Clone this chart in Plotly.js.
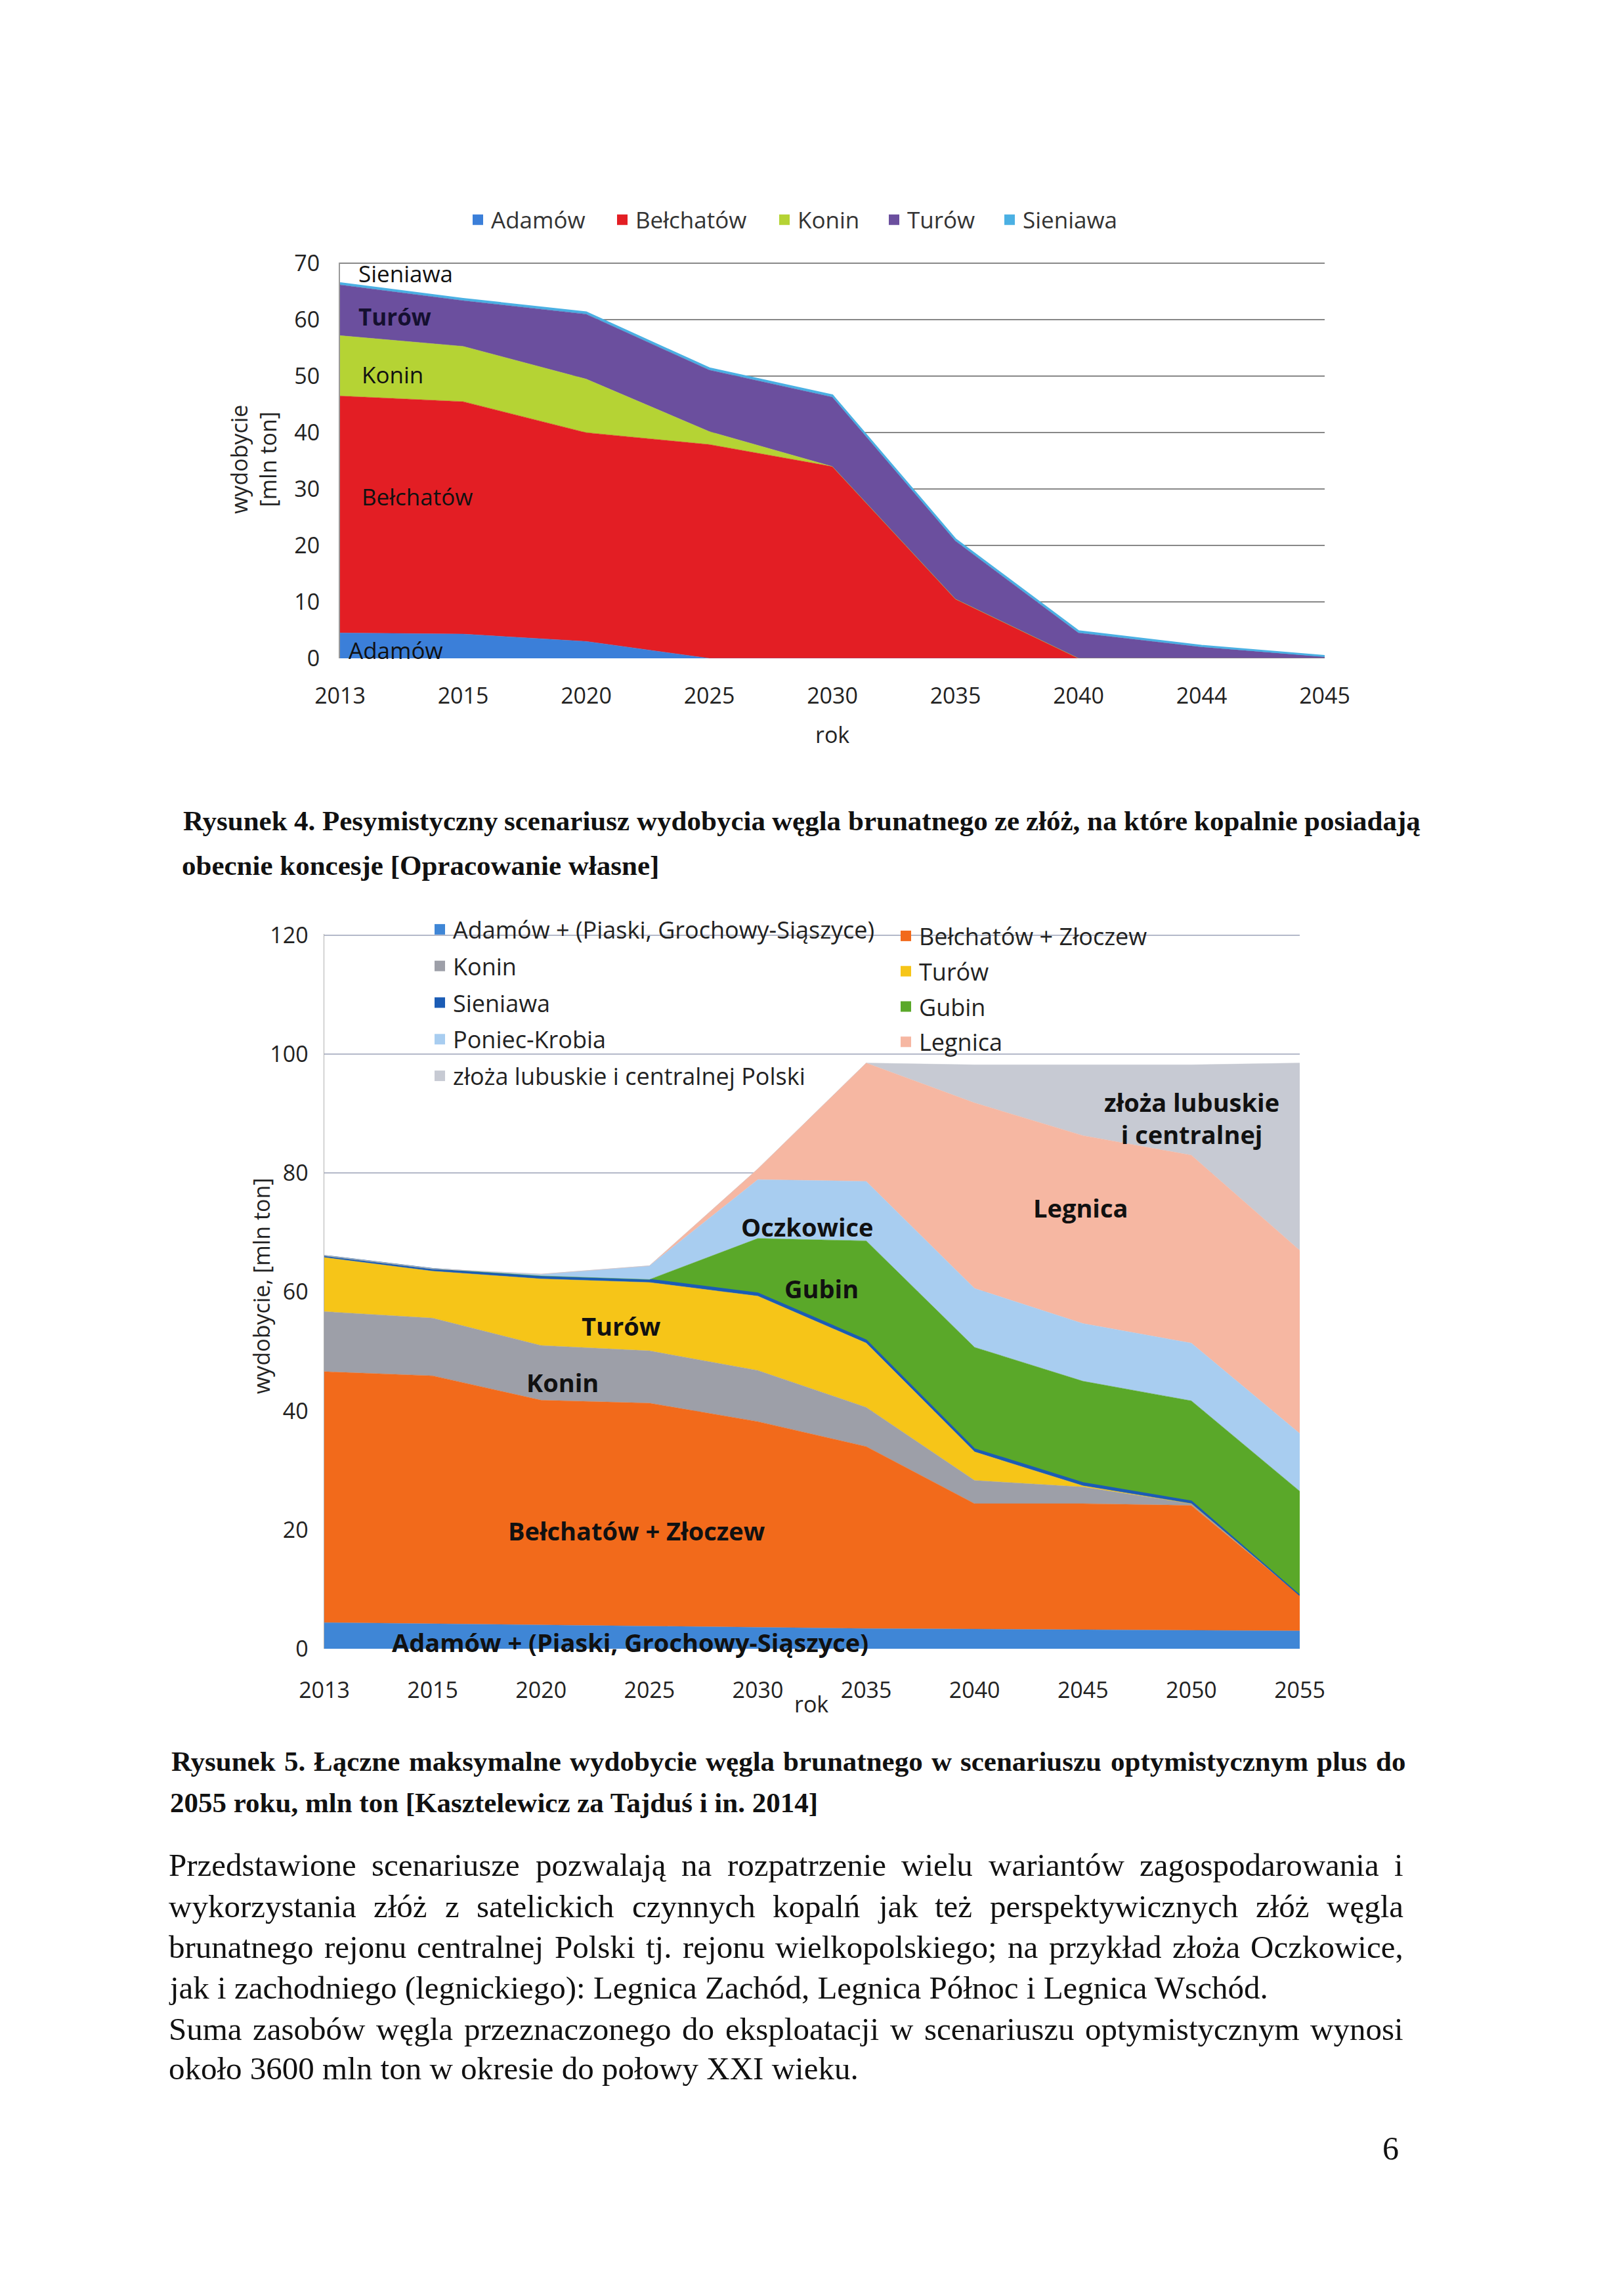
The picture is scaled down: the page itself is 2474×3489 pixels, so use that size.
<!DOCTYPE html>
<html>
<head>
<meta charset="utf-8">
<script src="https://cdn.plot.ly/plotly-3.0.1.min.js"></script>
<style>html,body{margin:0;padding:0;background:#fff;}#page{width:2474px;height:3489px;}</style>
</head>
<body>
<div id="page"></div>
<script>
// ---------- DATA: Rysunek 4 (scenariusz pesymistyczny) ----------
var years1 = ['2013','2015','2020','2025','2030','2035','2040','2044','2045'];
var adamow1    = [4.5, 4.3, 3.0, 0,    0,    0,    0,   0,   0];
var belchatow1 = [42.0,41.2,37.0,37.9, 34.0, 10.5, 0,   0,   0];
var konin1     = [10.7, 9.8, 9.5, 2.3, 0,    0,    0,   0,   0];
var turow1     = [9.0,  8.1,11.5,10.9, 12.3, 10.3, 4.5, 2.0, 0.3];
var sieniawa1  = [0.3,  0.3, 0.3, 0.3, 0.3,  0.3,  0.3, 0.2, 0.1];
var names1 = ['Adamów','Bełchatów','Konin','Turów','Sieniawa'];

// ---------- DATA: Rysunek 5 (scenariusz optymistyczny plus) ----------
var years2 = ['2013','2015','2020','2025','2030','2035','2040','2045','2050','2055'];
var adamow2    = [4.4, 4.2, 4.0, 3.8, 3.6, 3.4, 3.3, 3.2, 3.1, 3.0];
var belchatow2 = [42.2,41.7,37.8,37.5,34.6,30.6,21.1,21.2,21.0, 6.0];
var konin2     = [10.1, 9.7, 9.2, 8.8, 8.6, 6.6, 3.9, 2.8, 0.3, 0];
var turow2     = [9.1,  7.9,11.2,11.5,12.5,10.8, 4.8, 0.2, 0,   0];
var sieniawa2  = [0.3,  0.4, 0.5, 0.5, 0.5, 0.5, 0.5, 0.5, 0.4, 0];
var gubin2     = [0,    0,   0,   0,   9.2,16.7,17.1,17.1,16.9,17.5];
var poniec2    = [0,    0,   0.3, 2.3, 9.9,10.0, 9.9, 9.7, 9.7, 9.7];
var legnica2   = [0,    0,   0,   0,   1.8,19.9,31.2,31.6,31.6,30.8];
var lubuskie2  = [0,    0,   0,   0,   0,   0,   6.4,11.9,15.2,31.5];
var names2 = ['Adamów + (Piaski, Grochowy-Siąszyce)','Bełchatów + Złoczew','Konin','Turów','Sieniawa',
              'Gubin','Poniec-Krobia','Legnica','złoża lubuskie i centralnej Polski'];

// ---------- TEXT ----------
var caption4 = ['Rysunek 4. Pesymistyczny scenariusz wydobycia węgla brunatnego ze złóż, na które kopalnie posiadają',
                'obecnie koncesje [Opracowanie własne]'];
var caption5 = ['Rysunek 5. Łączne maksymalne wydobycie węgla brunatnego w scenariuszu optymistycznym plus do',
                '2055 roku, mln ton [Kasztelewicz za Tajduś i in. 2014]'];
var bodyLines = ['Przedstawione  scenariusze pozwalają na rozpatrzenie wielu wariantów zagospodarowania i',
  'wykorzystania złóż z satelickich czynnych kopalń  jak też perspektywicznych złóż węgla',
  'brunatnego rejonu centralnej Polski tj. rejonu wielkopolskiego; na przykład złoża Oczkowice,',
  'jak i zachodniego (legnickiego): Legnica Zachód, Legnica Północ i Legnica Wschód.',
  'Suma zasobów węgla przeznaczonego do eksploatacji w scenariuszu optymistycznym wynosi',
  'około 3600 mln ton w okresie do połowy XXI wieku.'];
var bodyJustified = [true, true, true, false, true, false];

// ---------- helpers ----------
var W = 2474, H = 3489;
function px(x){ return x / W; }
function py(y){ return 1 - y / H; }
var SANS = 'Open Sans, Liberation Sans, sans-serif';
var SERIF = 'Liberation Serif, Times New Roman, serif';

var colors1 = ['#3b7fd9','#e31e24','#b5d334','#6b4f9e','#4bb0e3'];
var colors2 = ['#3f86d6','#f26a1b','#9d9fa8','#f6c518','#1b5cb5','#5aa829','#a8cdf0','#f6b7a2','#c7cad3'];

var series1 = [adamow1, belchatow1, konin1, turow1, sieniawa1];
var series2 = [adamow2, belchatow2, konin2, turow2, sieniawa2, gubin2, poniec2, legnica2, lubuskie2];

var traces = [];
series1.forEach(function(s, i){
  traces.push({
    type:'scatter', mode:'lines', x: years1, y: s, name: names1[i],
    stackgroup:'top', xaxis:'x', yaxis:'y', showlegend:false,
    fillcolor: colors1[i],
    line:{color: colors1[i], width: (i === 4 ? 3 : 0.5)},
    hoverinfo:'x+y+name'
  });
});
series2.forEach(function(s, i){
  traces.push({
    type:'scatter', mode:'lines', x: years2, y: s, name: names2[i],
    stackgroup:'bottom', xaxis:'x2', yaxis:'y2', showlegend:false,
    fillcolor: colors2[i],
    line:{color: colors2[i], width: (i === 4 ? 2 : 0.5)},
    hoverinfo:'x+y+name'
  });
});
// legend entries (square swatches, no marks drawn)
var topLegends = ['legend','legend4','legend5','legend6','legend7'];
names1.forEach(function(n, i){
  traces.push({type:'scatter', mode:'markers', x:[null], y:[null], name:n, xaxis:'x', yaxis:'y',
    legend: topLegends[i], showlegend:true,
    marker:{symbol:'square', size:16, color: colors1[i]}});
});
var leftCol = {0:1, 2:1, 4:1, 6:1, 8:1};
names2.forEach(function(n, i){
  traces.push({type:'scatter', mode:'markers', x:[null], y:[null], name:n, xaxis:'x2', yaxis:'y2',
    legend: leftCol[i] ? 'legend2' : 'legend3', legendgroup:'g' + i, showlegend:true,
    marker:{symbol:'square', size:16, color: colors2[i]}});
});

var ann = [];
function A(text, x, y, opt){
  opt = opt || {};
  ann.push({
    text: text, x: px(x), y: py(y), xref:'paper', yref:'paper', showarrow:false,
    xanchor: opt.xa || 'left', yanchor: opt.ya || 'middle', align: opt.align || 'left',
    textangle: opt.angle || 0, borderpad: 0,
    font:{family: opt.family || SANS, size: opt.size || 35, color: opt.color || '#111'}
  });
}
// justified line: words placed so the line fills [x0, x1]
var cvs = document.createElement('canvas');
var ctx = cvs.getContext('2d');
function justify(line, x0, x1, y, size, bold){
  var words = line.split(/\s+/).filter(function(w){ return w.length; });
  ctx.font = (bold ? 'bold ' : '') + size + 'px "Liberation Serif"';
  var widths = words.map(function(w){ return ctx.measureText(w).width; });
  var total = widths.reduce(function(a, b){ return a + b; }, 0);
  var gap = (x1 - x0 - total) / Math.max(1, words.length - 1);
  var x = x0;
  words.forEach(function(w, i){
    A(bold ? '<b>' + w + '</b>' : w, x, y, {family:SERIF, size:size});
    x += widths[i] + gap;
  });
}

// top chart texts
A('Sieniawa', 545, 416);
A('<b>Turów</b>', 545, 483, {color:'#151030'});
A('Konin', 550, 570);
A('Bełchatów', 550, 757);
A('Adamów', 530, 990);
A('wydobycie<br>[mln ton]', 386, 700, {xa:'center', align:'center', angle:-90, size:34, color:'#222'});
A('rok', 1268, 1119, {xa:'center', size:34, color:'#222'});
// captions
justify(caption4[0], 278, 2163, 1250, 43, true);
A('<b>' + caption4[1] + '</b>', 276, 1318, {family:SERIF, size:43});
// bottom chart texts
A('<b>złoża lubuskie<br>i centralnej</b>', 1815, 1703, {xa:'center', align:'center', size:38});
A('<b>Legnica</b>', 1646, 1840, {xa:'center', size:38});
A('<b>Oczkowice</b>', 1230, 1869, {xa:'center', size:38});
A('<b>Gubin</b>', 1252, 1963, {xa:'center', size:38});
A('<b>Turów</b>', 946, 2020, {xa:'center', size:38});
A('<b>Konin</b>', 857, 2106, {xa:'center', size:38});
A('<b>Bełchatów + Złoczew</b>', 970, 2332, {xa:'center', size:38});
A('<b>Adamów + (Piaski, Grochowy-Siąszyce)</b>', 960, 2502, {xa:'center', size:38});
A('wydobycie, [mln ton]', 398, 1960, {xa:'center', align:'center', angle:-90, size:34, color:'#222'});
A('rok', 1236, 2596, {xa:'center', size:34, color:'#222'});
justify(caption5[0], 260, 2140, 2683, 43, true);
A('<b>' + caption5[1] + '</b>', 258, 2746, {family:SERIF, size:43});
// body
var bodyY = [2841, 2904, 2966, 3028, 3091, 3151];
bodyLines.forEach(function(t, i){
  if (bodyJustified[i]) justify(t, 256, 2137, bodyY[i], 49, false);
  else A(t, 256, bodyY[i], {family:SERIF, size:49});
});
A('6', 2118, 3273, {xa:'center', family:SERIF, size:50});

var tickFont = {family: SANS, size: 34, color:'#222'};
function topLegend(xFull){
  return {orientation:'v', x: px(xFull), xanchor:'left', y: py(335), yanchor:'middle',
          bgcolor:'rgba(0,0,0,0)', itemwidth:30, font:{family: SANS, size: 35, color:'#333'}};
}
var layout = {
  width: W, height: H,
  margin:{l:0, r:0, t:0, b:0},
  paper_bgcolor:'#ffffff', plot_bgcolor:'rgba(0,0,0,0)',
  showlegend: true,
  xaxis:{domain:[px(518), px(2018)], anchor:'y', type:'category', range:[0, 8],
         showgrid:false, zeroline:false, showline:false, ticks:'', tickfont: tickFont, ticklabelstandoff: 34},
  yaxis:{domain:[py(1003), py(400)], anchor:'x', range:[0, 70.15], tickvals:[0,10,20,30,40,50,60,70],
         showgrid:true, gridcolor:'#888888', gridwidth:2, zeroline:false,
         showline:true, linecolor:'#9a9a9a', linewidth:2, ticks:'', tickfont: tickFont, ticklabelstandoff: 22},
  xaxis2:{domain:[px(494), px(1980)], anchor:'y2', type:'category', range:[0, 9],
         showgrid:false, zeroline:false, showline:false, ticks:'', tickfont: tickFont, ticklabelstandoff: 40},
  yaxis2:{domain:[py(2512), py(1423)], anchor:'x2', range:[0, 120.2], tickvals:[0,20,40,60,80,100,120],
         showgrid:true, gridcolor:'#b4b9c9', gridwidth:2, zeroline:false,
         showline:true, linecolor:'#b0b0b0', linewidth:1.5, ticks:'', tickfont: tickFont, ticklabelstandoff: 16},
  legend: topLegend(708),
  legend4: topLegend(928),
  legend5: topLegend(1175),
  legend6: topLegend(1342),
  legend7: topLegend(1518),
  legend2:{orientation:'v', x: px(650), xanchor:'left', y: py(1386), yanchor:'top',
          bgcolor:'rgba(0,0,0,0)', traceorder:'grouped', tracegroupgap: 6, itemwidth:30,
          font:{family: SANS, size: 36, color:'#222'}},
  legend3:{orientation:'v', x: px(1360), xanchor:'left', y: py(1396), yanchor:'top',
          bgcolor:'rgba(0,0,0,0)', traceorder:'grouped', tracegroupgap: 4, itemwidth:30,
          font:{family: SANS, size: 36, color:'#222'}},
  annotations: ann
};

Plotly.newPlot('page', traces, layout, {displayModeBar:false, staticPlot:true});
</script>
</body>
</html>
